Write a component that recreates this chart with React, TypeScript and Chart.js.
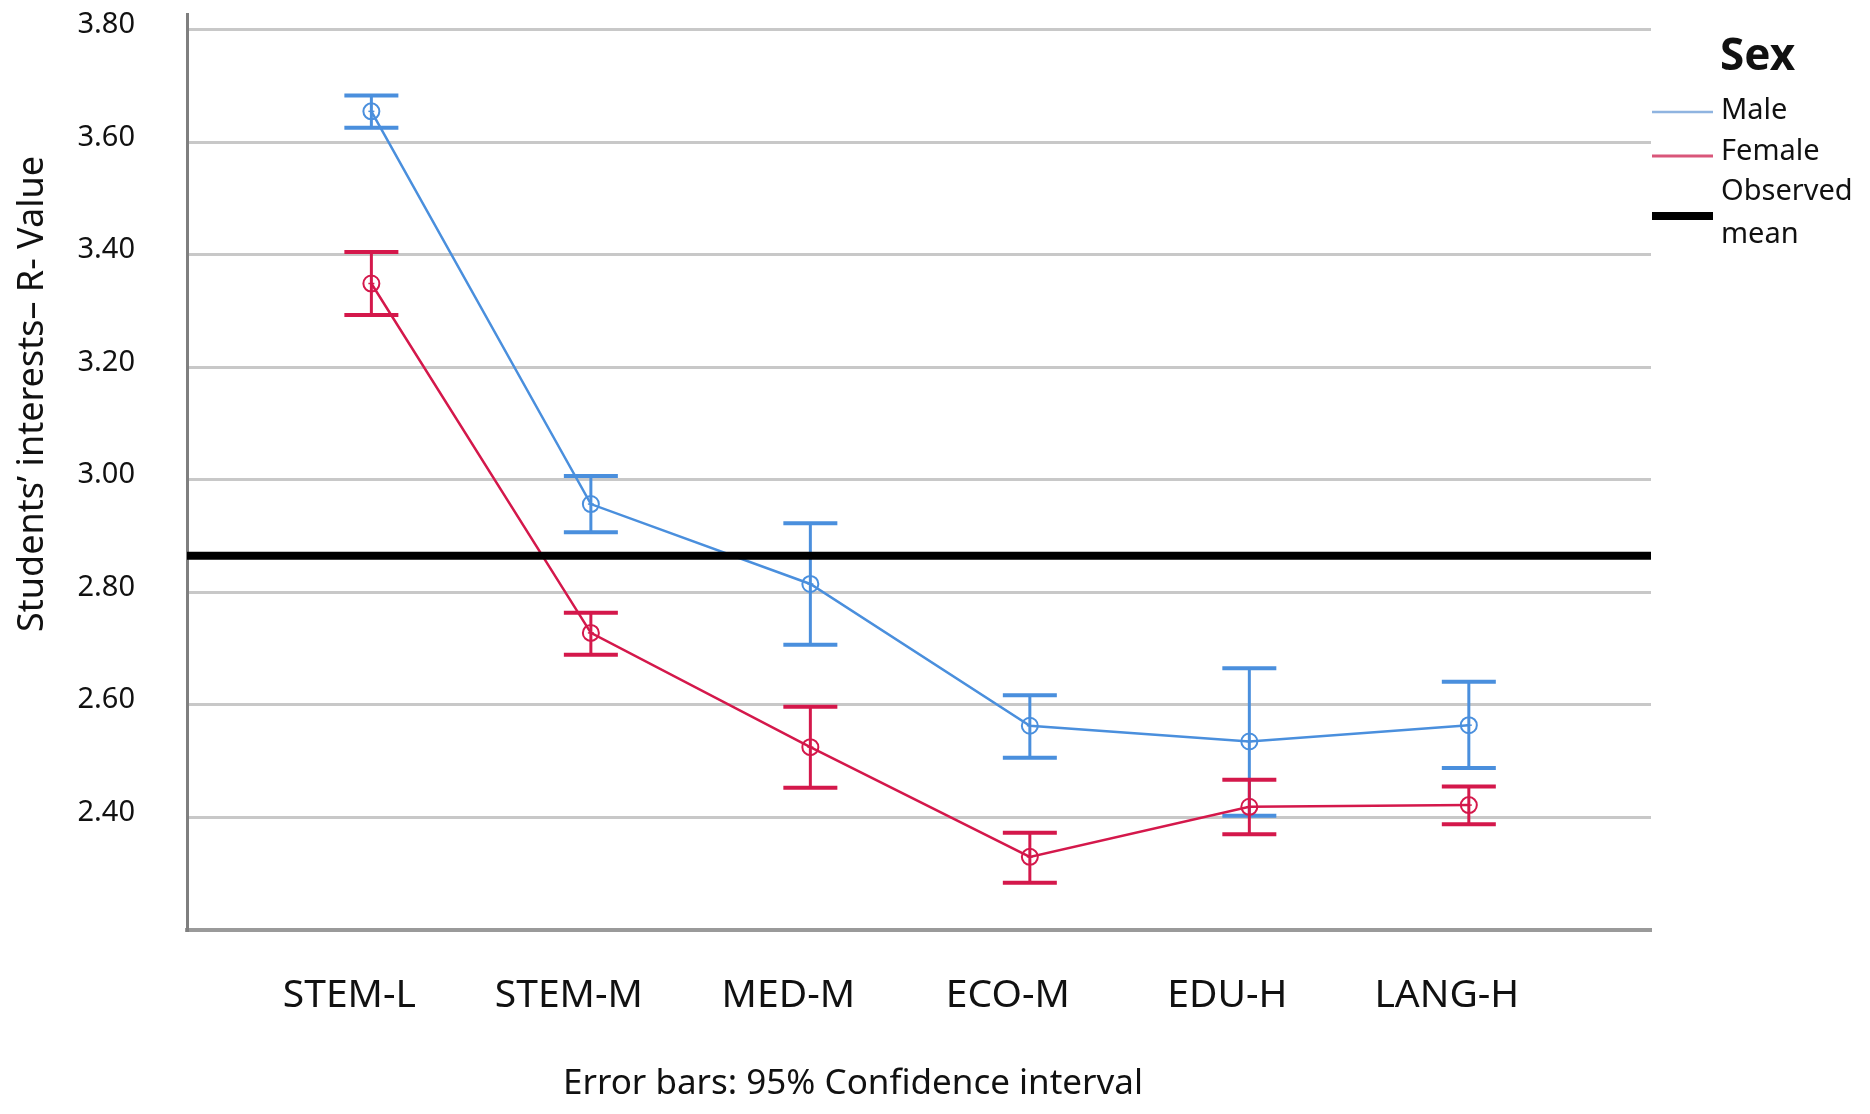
import { Chart, registerables } from 'chart.js';
import { useEffect, useRef } from 'react';

Chart.register(...registerables);

const categories = ['STEM-L', 'STEM-M', 'MED-M', 'ECO-M', 'EDU-H', 'LANG-H'];
const maleMean = [3.655, 2.957, 2.815, 2.563, 2.535, 2.564];
const maleLower = [3.626, 2.907, 2.707, 2.506, 2.403, 2.488];
const maleUpper = [3.683, 3.007, 2.923, 2.617, 2.665, 2.641];
const femaleMean = [3.349, 2.728, 2.525, 2.330, 2.419, 2.422];
const femaleLower = [3.293, 2.689, 2.453, 2.284, 2.370, 2.388];
const femaleUpper = [3.405, 2.764, 2.597, 2.373, 2.467, 2.455];
const observedMean = 2.865;
const yTicks = [2.4, 2.6, 2.8, 3.0, 3.2, 3.4, 3.6, 3.8];
const legendTitle = 'Sex';
const legendLabels = ['Male', 'Female', 'Observed mean'];
const yTitle = 'Students’ interests– R- Value';
const footnote = 'Error bars: 95% Confidence interval';

const BLUE = '#4a8fdd';
const RED = '#d4184b';
const FONT = "'Noto Sans', 'Open Sans', sans-serif";

const errorBars = {
    id: 'errorBars',
    afterDatasetDraw(chart: any, args: any) {
        const ds = chart.data.datasets[args.index];
        if (!ds.errLow) return;
        const ctx = chart.ctx;
        const xs = chart.scales.x;
        const ys = chart.scales.y;
        ctx.save();
        ctx.strokeStyle = ds.borderColor;
        ds.errLow.forEach((lo: number, i: number) => {
            const x = xs.getPixelForValue(i);
            const yl = ys.getPixelForValue(lo);
            const yh = ys.getPixelForValue(ds.errHigh[i]);
            const ym = ys.getPixelForValue(ds.data[i].y);
            ctx.lineWidth = 3;
            ctx.beginPath();
            ctx.moveTo(x, yl);
            ctx.lineTo(x, yh);
            ctx.stroke();
            ctx.lineWidth = 4;
            ctx.beginPath();
            ctx.moveTo(x - 27, yl);
            ctx.lineTo(x + 27, yl);
            ctx.moveTo(x - 27, yh);
            ctx.lineTo(x + 27, yh);
            ctx.stroke();
            ctx.lineWidth = 1.5;
            ctx.beginPath();
            ctx.moveTo(x - 3, ym);
            ctx.lineTo(x + 3, ym);
            ctx.stroke();
        });
        ctx.restore();
    },
};

const extras = {
    id: 'extras',
    afterDraw(chart: any) {
        const ctx = chart.ctx;
        ctx.save();
        ctx.fillStyle = '#111';
        // y axis title
        ctx.save();
        ctx.translate(33, 394);
        ctx.rotate(-Math.PI / 2);
        ctx.font = `36px ${FONT}`;
        ctx.textAlign = 'center';
        ctx.textBaseline = 'middle';
        ctx.fillText(yTitle, 0, 0);
        ctx.restore();
        // footnote
        ctx.font = `35px ${FONT}`;
        ctx.textAlign = 'center';
        ctx.textBaseline = 'middle';
        ctx.fillText(footnote, 853, 1084);
        // legend
        ctx.textAlign = 'left';
        ctx.font = `bold 44px ${FONT}`;
        ctx.fillText(legendTitle, 1720, 57);
        ctx.font = `29px ${FONT}`;
        ctx.fillText(legendLabels[0], 1721, 111);
        ctx.fillText(legendLabels[1], 1721, 152);
        const parts = legendLabels[2].split(' ');
        ctx.fillText(parts[0], 1721, 192);
        ctx.fillText(parts[1], 1721, 235);
        const swatch = (y: number, color: string, w: number) => {
            ctx.strokeStyle = color;
            ctx.lineWidth = w;
            ctx.beginPath();
            ctx.moveTo(1652, y);
            ctx.lineTo(1713, y);
            ctx.stroke();
        };
        swatch(112, '#8fb4e0', 2.5);
        swatch(156, '#d9567a', 3);
        swatch(216, '#000', 8);
        ctx.restore();
    },
};

export default function App() {
    const canvasRef = useRef<HTMLCanvasElement>(null);
    useEffect(() => {
        document.body.style.margin = '0';
        if (canvasRef.current === null) return;
        const ctx = canvasRef.current.getContext('2d');
        if (ctx === null) return;
        Chart.defaults.font.family = FONT;
        const chart = new Chart(ctx, {
            type: 'line',
            data: {
                datasets: [
                    {
                        label: 'Observed mean',
                        data: [{ x: -0.84, y: observedMean }, { x: 5.83, y: observedMean }],
                        borderColor: '#000',
                        borderWidth: 8,
                        pointRadius: 0,
                        order: 0,
                    },
                    {
                        label: 'Male',
                        data: maleMean.map((y, i) => ({ x: i, y })),
                        errLow: maleLower,
                        errHigh: maleUpper,
                        borderColor: BLUE,
                        borderWidth: 2.5,
                        pointStyle: 'circle',
                        pointRadius: 8,
                        pointBorderWidth: 2,
                        pointBorderColor: BLUE,
                        pointBackgroundColor: 'rgba(255,255,255,0)',
                        order: 2,
                    } as any,
                    {
                        label: 'Female',
                        data: femaleMean.map((y, i) => ({ x: i, y })),
                        errLow: femaleLower,
                        errHigh: femaleUpper,
                        borderColor: RED,
                        borderWidth: 2.5,
                        pointStyle: 'circle',
                        pointRadius: 8,
                        pointBorderWidth: 2,
                        pointBorderColor: RED,
                        pointBackgroundColor: 'rgba(255,255,255,0)',
                        order: 1,
                    } as any,
                ],
            },
            options: {
                animation: false,
                responsive: false,
                layout: { padding: { top: 14, right: 219, left: 0, bottom: 0 } },
                plugins: {
                    legend: { display: false },
                    tooltip: { enabled: false },
                },
                scales: {
                    x: {
                        type: 'linear',
                        min: -0.84,
                        max: 5.83,
                        afterBuildTicks: (s: any) => {
                            s.ticks = categories.map((_, i) => ({ value: i }));
                        },
                        afterFit: (s: any) => {
                            s.height = 184;
                            s.paddingLeft = 0;
                            s.paddingRight = 0;
                        },
                        grid: { display: false, drawTicks: false },
                        border: { color: '#9a9a9a', width: 4 },
                        ticks: {
                            autoSkip: false,
                            maxRotation: 0,
                            padding: 42,
                            labelOffset: -22,
                            color: '#111',
                            font: { size: 39 },
                            callback: (v: any) => categories[v] ?? '',
                        },
                    },
                    y: {
                        min: 2.2,
                        max: 3.828,
                        afterBuildTicks: (s: any) => {
                            s.ticks = yTicks.map((v) => ({ value: v }));
                        },
                        afterFit: (s: any) => {
                            s.width = 187;
                            s.paddingTop = 0;
                            s.paddingBottom = 0;
                        },
                        grid: { color: '#c8c8c8', lineWidth: 3, drawTicks: false },
                        border: { color: '#7f7f7f', width: 3 },
                        ticks: {
                            padding: 52,
                            labelOffset: -5,
                            color: '#111',
                            font: { size: 29 },
                            callback: (v: any) => Number(v).toFixed(2),
                        },
                    },
                },
            },
            plugins: [errorBars, extras],
        });
        return () => {
            chart.destroy();
        };
    }, []);

    return (
        <div style={{ width: 1870, height: 1114 }}>
            <canvas ref={canvasRef} width={1870} height={1114}></canvas>
        </div>
    );
}
